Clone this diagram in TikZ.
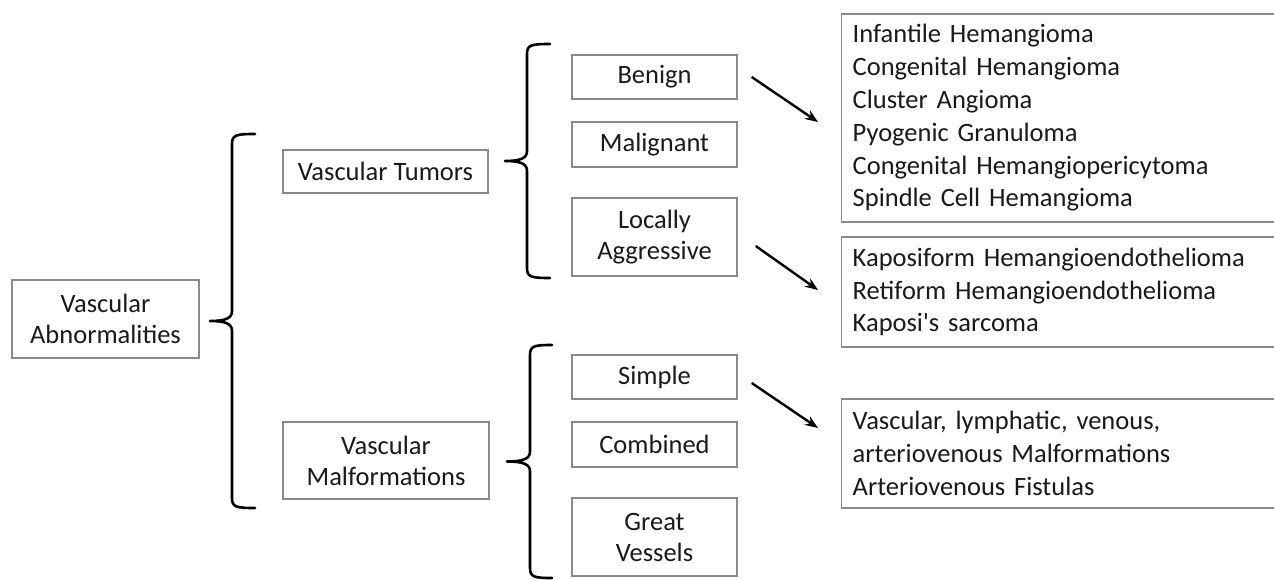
\documentclass[tikz,border=0pt]{standalone}
\usepackage{fontspec}
\setmainfont{Carlito}[Ligatures=TeXOff]
\usetikzlibrary{arrows.meta,calc}
\definecolor{txt}{HTML}{1A1A1A}
\definecolor{bord}{HTML}{8A8A8A}
\tikzset{
  box/.style={draw=bord, line width=1.4pt, text=txt, align=center, inner sep=0pt,
    font=\fontsize{26.5pt}{31pt}\selectfont},
  rbox/.style={draw=bord, line width=1.4pt, text=txt, align=left, anchor=west,
    inner xsep=11pt, inner ysep=0pt, minimum width=470pt, text width=448pt,
    font=\fontsize{26.5pt}{32.8pt}\selectfont},
  bracestyle/.style={line width=2.6pt, black, line cap=round, line join=round},
  arr/.style={line width=2.4pt, black, -{Stealth[length=13pt,width=10pt]}}
}
\newcommand\mybrace[5]{% #1 vertical x, #2 top y, #3 bottom y, #4 tip x, #5 arm x
  \pgfmathsetmacro\mid{(#2+#3)/2}
  \draw[bracestyle] (#5,#2) .. controls (#1+4,#2) and (#1,#2+1) .. (#1,#2+10)
    -- (#1,\mid-10) .. controls (#1,\mid-3) and (#1-6,\mid) .. (#4,\mid)
    .. controls (#1-6,\mid) and (#1,\mid+3) .. (#1,\mid+10)
    -- (#1,#3-10) .. controls (#1,#3-1) and (#1+4,#3) .. (#5,#3);
}
\begin{document}
\begin{tikzpicture}[x=1pt,y=-1pt]
\clip (0,0) rectangle (1274,580);
\fill[white] (0,0) rectangle (1274,580);
% left column
\node[box, minimum width=187pt, minimum height=78pt] (va) at (105.5,319) {Vascular\\Abnormalities};
% second column
\node[box, minimum width=205pt, minimum height=43pt] (vt) at (385.5,171.5) {Vascular Tumors};
\node[box, minimum width=206pt, minimum height=77pt] (vm) at (386,460.5) {Vascular\\Malformations};
% third column
\node[box, minimum width=165pt, minimum height=44pt] (ben) at (654.5,77) {Benign};
\node[box, minimum width=165pt, minimum height=45pt] (mal) at (654.5,144.5) {Malignant};
\node[box, minimum width=165pt, minimum height=78pt] (loc) at (654.5,237) {Locally\\Aggressive};
\node[box, minimum width=165pt, minimum height=44pt] (sim) at (654.5,377) {Simple};
\node[box, minimum width=165pt, minimum height=45pt] (com) at (654.5,444.5) {Combined};
\node[box, minimum width=165pt, minimum height=78pt] (gv) at (654.5,537) {Great\\Vessels};
% right boxes
\node[rbox, minimum height=208pt] (b1) at (841,118) {Infantile Hemangioma\\Congenital Hemangioma\\Cluster Angioma\\Pyogenic Granuloma\\Congenital Hemangiopericytoma\\Spindle Cell Hemangioma};
\node[rbox, minimum height=110pt] (b2) at (841,292) {Kaposiform Hemangioendothelioma\\Retiform Hemangioendothelioma\\Kaposi's sarcoma};
\node[rbox, minimum height=109pt] (b3) at (841,453.5) {Vascular, lymphatic, venous,\\arteriovenous Malformations\\Arteriovenous Fistulas};
% braces
\mybrace{232}{134}{508}{210}{255}
\mybrace{527}{44}{278}{505}{550}
\mybrace{530}{345}{578}{507}{552}
% arrows
\coordinate (a1s) at ($(ben.east)+(14,0)$);
\coordinate (a1e) at ($(b1.west)+(-23,4)$);
\coordinate (a2s) at ($(loc.east)+(18,9)$);
\coordinate (a2e) at ($(b2.west)+(-23,-2)$);
\coordinate (a3s) at ($(sim.east)+(14,6)$);
\coordinate (a3e) at ($(b3.west)+(-23,-25.5)$);
\draw[arr] (a1s) -- (a1e);
\draw[arr] (a2s) -- (a2e);
\draw[arr] (a3s) -- (a3e);
\end{tikzpicture}
\end{document}
